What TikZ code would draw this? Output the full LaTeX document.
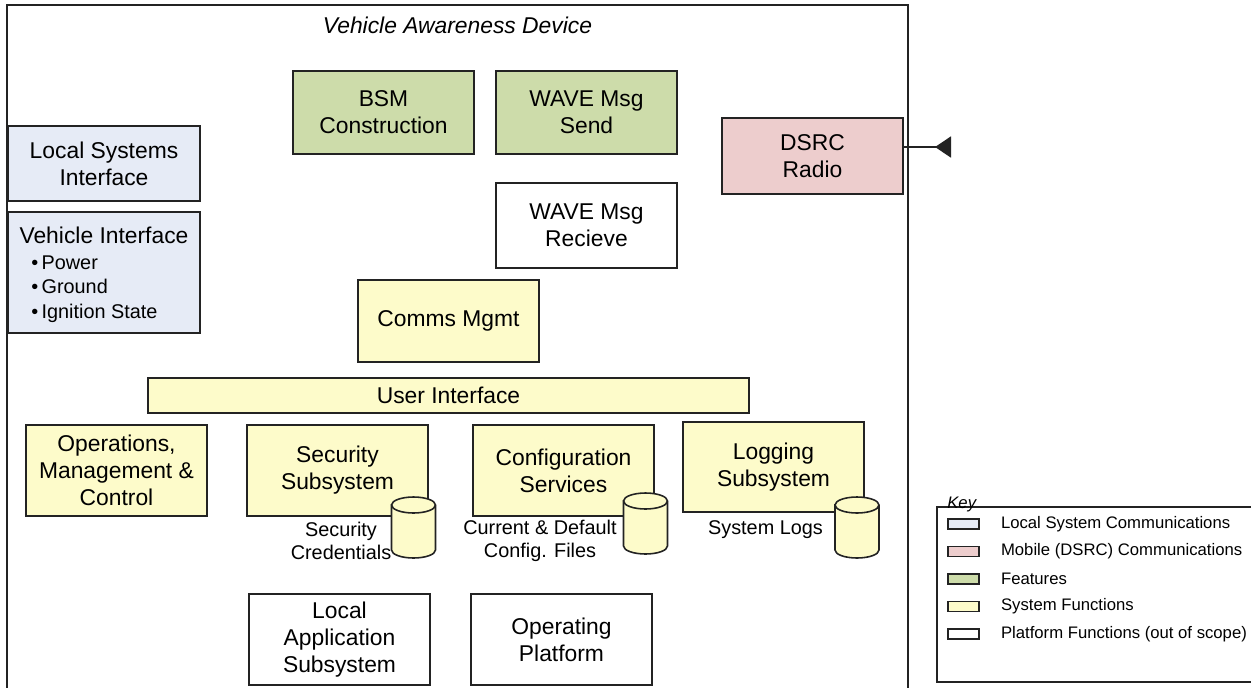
\documentclass[tikz,border=0pt]{standalone}
\usepackage{fontspec}
\setmainfont{Liberation Sans}
\usetikzlibrary{arrows.meta, positioning}
\definecolor{lscblue}{RGB}{230,235,246}
\definecolor{dsrcpink}{RGB}{237,205,205}
\definecolor{featgreen}{RGB}{205,220,170}
\definecolor{sysyellow}{RGB}{253,251,202}
\definecolor{edge}{RGB}{35,35,35}
\newcommand{\boxfont}{\fontsize{13}{15.4}\selectfont}
\newcommand{\smallfont}{\fontsize{11.3}{12.8}\selectfont}
\newcommand{\keyfont}{\fontsize{9.5}{11}\selectfont}
% data store drawn as a cylinder: name, centre x, top y
\newcommand{\dbcyl}[3]{%
  \coordinate (#1) at (#2,#3);
  \filldraw[dbstore] (#2-22,#3+8) -- (#2-22,#3+53)
    arc[start angle=180, end angle=360, x radius=0.44cm, y radius=0.16cm]
    -- (#2+22,#3+8)
    arc[start angle=0, end angle=180, x radius=0.44cm, y radius=0.16cm] -- cycle;
  \draw[dbline] (#2-22,#3+8)
    arc[start angle=180, end angle=360, x radius=0.44cm, y radius=0.16cm];
}
\tikzset{
  blk/.style={draw=edge, line width=0.9pt, align=center, font=\boxfont,
    minimum width=3.62cm, minimum height=1.66cm, inner sep=2pt},
  lsc/.style={blk, fill=lscblue},
  dsrc/.style={blk, fill=dsrcpink},
  feat/.style={blk, fill=featgreen},
  sysf/.style={blk, fill=sysyellow},
  plat/.style={blk, fill=white},
  dbstore/.style={draw=edge, line width=0.9pt, fill=sysyellow},
  dbline/.style={draw=edge, line width=0.9pt},
  dblabel/.style={align=center, font=\smallfont, inner sep=0pt},
  bulletitem/.style={anchor=base west, font=\smallfont, inner sep=0pt},
  keyswatch/.style={draw=edge, line width=0.8pt, minimum width=0.62cm,
    minimum height=0.2cm, inner sep=0pt},
  keytext/.style={font=\keyfont, inner sep=0pt, anchor=west}
}
\begin{document}
\begin{tikzpicture}[x=0.02cm, y=-0.02cm]
	\clip (0,0) rectangle (1251,687);
	\fill[white] (0,0) rectangle (1251,687);
	% device boundary
	\draw[edge, line width=1.2pt] (7,720) -- (7,5) -- (908,5) -- (908,720);
	\node[font=\boxfont\itshape, anchor=base] (vadtitle) at (457.5,33) {Vehicle Awareness Device};
	% features and comms
	\node[feat] (bsm) at (383.5,112.5) {BSM\\Construction};
	\node[feat] (wsend) at (586.5,112.5) {WAVE Msg\\Send};
	\node[plat, minimum height=1.7cm] (wrecv) at (586.5,225.5) {WAVE Msg\\Recieve};
	\node[sysf, minimum height=1.64cm] (comms) at (448.5,321) {Comms Mgmt};
	\node[sysf, minimum width=12.02cm, minimum height=0.7cm] (ui) at (448.5,395.5) {User Interface};
	\node[dsrc, minimum height=1.52cm] (dsrc) at (812.5,156) {DSRC\\Radio};
	% local interfaces
	\node[lsc, minimum width=3.84cm, minimum height=1.5cm] (lsi) at (104,163.5) {Local Systems\\Interface};
	\node[lsc, minimum width=3.84cm, minimum height=2.42cm] (vi) at (104,272.5) {};
	\node[font=\boxfont, anchor=base] (vititle) at (104,243) {Vehicle Interface};
	\foreach \t [count=\i] in {Power, Ground, Ignition State}
		\node[bulletitem] (vi\i) at (31,244.5+24.5*\i) {\textbullet\,\t};
	% system functions
	\node[sysf, minimum height=1.82cm] (omc) at (116.5,470.5) {Operations,\\Management \&\\Control};
	\node[sysf, minimum height=1.82cm] (secsub) at (337.5,470.5) {Security\\Subsystem};
	\node[sysf, minimum height=1.82cm] (confsvc) at (563.5,470.5) {Configuration\\Services};
	\node[sysf, minimum height=1.8cm] (logsub) at (773.5,467) {Logging\\Subsystem};
	\node[dblabel] (seccred) at (341,541) {Security\\Credentials};
	\node[dblabel] (conffiles) at (540,541) {Current \& Default\\Config. Files};
	\node[dblabel] (syslogs) at (765.5,530) {System Logs};
	\dbcyl{secdb}{413.5}{497}
	\dbcyl{confdb}{645.5}{493}
	\dbcyl{logdb}{857}{497}
	% platform
	\node[plat, minimum height=1.82cm] (locapp) at (339.5,639.5) {Local\\Application\\Subsystem};
	\node[plat, minimum height=1.82cm] (opplat) at (561.5,639.5) {Operating\\Platform};
	% antenna
	\coordinate (ant) at (951,147);
	\draw[edge, line width=0.9pt, -{Triangle[reversed, length=0.32cm, width=0.42cm]}] (dsrc.east |- ant) -- (ant);
	% key
	\draw[edge, line width=0.9pt] (1270,507) -- (937,507) -- (937,682) -- (1270,682);
	\node[font=\keyfont\itshape, anchor=base west, inner sep=0pt] (keytitle) at (947,508) {Key};
	\foreach \c/\t [count=\i from 0] in {lscblue/Local System Communications,
		dsrcpink/Mobile (DSRC) Communications, featgreen/Features,
		sysyellow/System Functions, white/Platform Functions (out of scope)} {
		\node[keyswatch, fill=\c] (sw\i) at (963.5,524+27.5*\i) {};
		\node[keytext, right=0.42cm of sw\i] (kt\i) {\t};
	}
\end{tikzpicture}
\end{document}
